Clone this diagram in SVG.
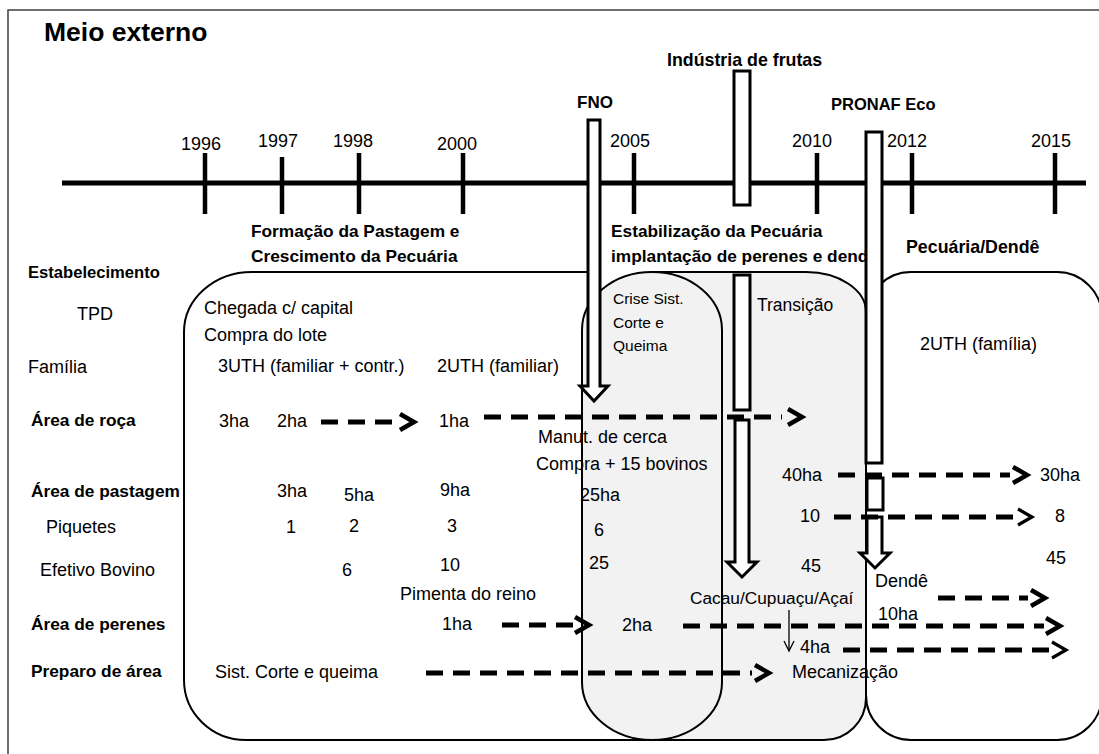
<svg xmlns="http://www.w3.org/2000/svg" width="1099" height="754" viewBox="0 0 1099 754">
<style>
  text { font-family: "Liberation Sans", Arial, sans-serif; font-size: 18px; fill: #000; }
  .b { font-weight: bold; font-size: 17.3px; }
  .s { font-size: 15.5px; }
  .ol { fill: none; stroke: #000; stroke-width: 2; }
  .tick { stroke: #000; stroke-width: 4.5; }
  .dash { fill: none; stroke: #000; stroke-width: 5; stroke-dasharray: 17 10; }
  .chev { fill: none; stroke: #000; stroke-width: 4.5; stroke-linejoin: miter; }
  .chevt { fill: none; stroke: #000; stroke-width: 3.2; }
  .bar { fill: #fff; stroke: #000; stroke-width: 3; }
  .grey { fill: #f2f2f2; }
</style>

<rect id="frame" x="8" y="10" width="1100" height="760" fill="#fff" stroke="#404040" stroke-width="1.5"/>
<text class="b" x="44" y="41" style="font-size:26.5px">Meio externo</text>

<g id="timeline">
  <line x1="62" y1="183" x2="1086" y2="183" stroke="#000" stroke-width="5"/>
  <line class="tick" x1="205" y1="153" x2="205" y2="214"/>
  <line class="tick" x1="282" y1="157" x2="282" y2="214"/>
  <line class="tick" x1="359" y1="153" x2="359" y2="214"/>
  <line class="tick" x1="463" y1="153" x2="463" y2="214"/>
  <line class="tick" x1="634" y1="153" x2="634" y2="214"/>
  <line class="tick" x1="817" y1="153" x2="817" y2="214"/>
  <line class="tick" x1="912" y1="153" x2="912" y2="214"/>
  <line class="tick" x1="1055" y1="153" x2="1055" y2="214"/>
  <text x="181" y="150">1996</text>
  <text x="258" y="146.5">1997</text>
  <text x="333" y="146.5">1998</text>
  <text x="437" y="150">2000</text>
  <text x="610" y="147">2005</text>
  <text x="792" y="147">2010</text>
  <text x="887" y="147">2012</text>
  <text x="1031" y="147">2015</text>
</g>

<g id="period-fills">
  <rect id="fill-formacao" x="184" y="272" width="466" height="468" rx="65" ry="60" fill="#fff"/>
  <path id="fill-transicao" class="grey" d="M650,272 H806 A60,40 0 0 1 866,312 V698 A42,42 0 0 1 824,740 H650 Z"/>
  <rect id="fill-crise" class="grey" x="582" y="272" width="140" height="468" rx="70" ry="58"/>
  <rect id="fill-pecuaria-dende" x="866" y="272" width="236" height="468" rx="45" ry="45" fill="#fff"/>
</g>

<g id="period-titles">
  <text class="b" x="251" y="237">Formação da Pastagem e</text>
  <text class="b" x="251" y="262">Crescimento da Pecuária</text>
  <text class="b" x="611" y="237">Estabilização da Pecuária</text>
  <text class="b" x="611" y="262">implantação de perenes e dendê</text>
  <text class="b" x="906" y="253" style="font-size:17.8px">Pecuária/Dendê</text>
</g>

<g id="row-labels">
  <text class="b" x="28" y="278" style="font-size:16.6px">Estabelecimento</text>
  <text x="77" y="320">TPD</text>
  <text x="28" y="373">Família</text>
  <text class="b" x="31" y="426">Área de roça</text>
  <text class="b" x="31" y="497">Área de pastagem</text>
  <text x="46" y="533">Piquetes</text>
  <text x="40" y="576">Efetivo Bovino</text>
  <text class="b" x="31" y="630">Área de perenes</text>
  <text class="b" x="31" y="677">Preparo de área</text>
</g>

<g id="node-formacao">
  <text x="204" y="314">Chegada c/ capital</text>
  <text x="204" y="341">Compra do lote</text>
  <text x="218" y="372">3UTH (familiar + contr.)</text>
  <text x="437" y="372">2UTH (familiar)</text>
  <text x="219" y="427">3ha</text>
  <text x="277" y="427">2ha</text>
  <text x="439" y="427">1ha</text>
  <text x="538" y="443">Manut. de cerca</text>
  <text x="536" y="470">Compra + 15 bovinos</text>
  <text x="277" y="497">3ha</text>
  <text x="344" y="501">5ha</text>
  <text x="440" y="496">9ha</text>
  <text x="286" y="533">1</text>
  <text x="349" y="532">2</text>
  <text x="447" y="532">3</text>
  <text x="342" y="576">6</text>
  <text x="440" y="571">10</text>
  <text x="400" y="600">Pimenta do reino</text>
  <text x="442" y="630">1ha</text>
  <text x="215" y="678">Sist. Corte e queima</text>
</g>

<g id="node-crise">
  <text class="s" x="613" y="304">Crise Sist.</text>
  <text class="s" x="613" y="328">Corte e</text>
  <text class="s" x="613" y="351">Queima</text>
  <text x="580" y="501">25ha</text>
  <text x="594" y="536">6</text>
  <text x="589" y="569">25</text>
  <text x="622" y="631">2ha</text>
</g>

<g id="node-transicao">
  <text x="757" y="311" style="font-size:17.5px">Transição</text>
  <text x="782" y="481">40ha</text>
  <text x="800" y="522">10</text>
  <text x="801" y="572">45</text>
  <text x="690" y="604" style="font-size:17.3px">Cacau/Cupuaçu/Açaí</text>
  <text x="800" y="653">4ha</text>
  <text x="792" y="678">Mecanização</text>
</g>

<g id="node-pecuaria-dende">
  <text x="920" y="350">2UTH (família)</text>
  <text x="1040" y="481">30ha</text>
  <text x="1055" y="522">8</text>
  <text x="1046" y="564">45</text>
  <text x="875" y="587">Dendê</text>
  <text x="878" y="620">10ha</text>
</g>

<g id="period-outlines">
  <path class="ol" d="M600,272 H252 A68,60 0 0 0 184,332 V680 A62,60 0 0 0 246,740 H650"/>
  <path class="ol" d="M650,272 H806 A60,40 0 0 1 866,312 V698 A42,42 0 0 1 824,740 H650"/>
  <rect class="ol" x="582" y="272" width="140" height="468" rx="70" ry="58"/>
  <rect class="ol" x="866" y="272" width="236" height="468" rx="45" ry="45"/>
</g>

<g id="event-fno">
  <text class="b" x="577" y="108" style="font-size:17px">FNO</text>
  <path class="bar" d="M588,120 H600 V386 H608 L594,401 L580,386 H588 Z"/>
</g>

<g id="event-industria">
  <text class="b" x="667" y="66" style="font-size:17.8px">Indústria de frutas</text>
  <rect class="bar" x="734" y="71" width="16" height="134"/>
  <rect class="bar" x="734" y="275" width="16" height="135"/>
  <path class="bar" d="M735,420 H749 V562 H757 L742,577 L727,562 H735 Z"/>
</g>

<g id="event-pronaf">
  <text class="b" x="831" y="110" style="font-size:16.5px">PRONAF Eco</text>
  <rect class="bar" x="866" y="132" width="16" height="331"/>
  <rect class="bar" x="867" y="478" width="16" height="32"/>
  <path class="bar" d="M867,517 H882 V553 H890 L875,568 L860,553 H867 Z"/>
</g>

<g id="connectors">
  <path class="dash" d="M321,422 H392"/>
  <polyline class="chev" points="400,414 414,422 400,430"/>

  <path class="dash" d="M484,417 H782"/>
  <polyline class="chev" points="788,409 802,417 788,425"/>

  <path class="dash" d="M838,475 H1010"/>
  <polyline class="chev" points="1013,467 1027,475 1013,483"/>

  <path class="dash" d="M834,517 H1016"/>
  <polyline class="chevt" points="1018,509 1032,517 1018,525"/>

  <path class="dash" d="M938,598 H1028"/>
  <polyline class="chev" points="1031,590 1045,598 1031,606"/>

  <path class="dash" d="M502,625 H573"/>
  <polyline class="chev" points="575,617 589,625 575,633"/>

  <path class="dash" d="M683,626 H1044"/>
  <polyline class="chev" points="1046,618 1060,626 1046,634"/>

  <path class="dash" d="M843,650 H1050"/>
  <polyline class="chevt" points="1052,642 1066,650 1052,658"/>

  <path class="dash" d="M426,673 H752"/>
  <polyline class="chev" points="755,665 769,673 755,681"/>

  <path d="M789,610 V650" stroke="#000" stroke-width="1.3" fill="none"/>
  <polyline points="784,641 789,651 794,641" stroke="#000" stroke-width="1.3" fill="none"/>
</g>
</svg>
